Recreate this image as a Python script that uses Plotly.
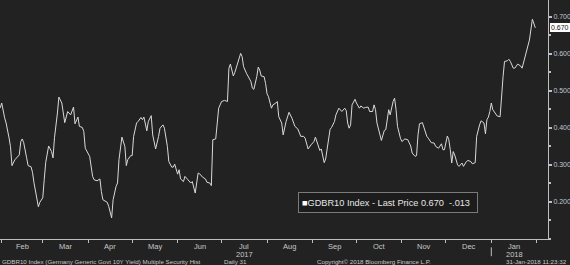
import pandas as pd
import plotly.graph_objects as go

dates = [
"2017-01-31","2017-02-01","2017-02-03","2017-02-04","2017-02-06","2017-02-07","2017-02-08","2017-02-10","2017-02-13","2017-02-14",
"2017-02-15","2017-02-16","2017-02-18","2017-02-19","2017-02-21","2017-02-22","2017-02-23","2017-02-25","2017-02-26","2017-02-27",
"2017-03-01","2017-03-02","2017-03-03","2017-03-05","2017-03-07","2017-03-08","2017-03-09","2017-03-11","2017-03-12","2017-03-14",
"2017-03-15","2017-03-16","2017-03-18","2017-03-20","2017-03-22","2017-03-23","2017-03-25","2017-03-26","2017-03-28","2017-03-29",
"2017-03-30","2017-04-01","2017-04-02","2017-04-04","2017-04-05","2017-04-07","2017-04-09","2017-04-10","2017-04-11","2017-04-14",
"2017-04-15","2017-04-17","2017-04-18","2017-04-20","2017-04-21","2017-04-22","2017-04-24","2017-04-26","2017-04-27","2017-04-28",
"2017-04-30","2017-05-01","2017-05-02","2017-05-04","2017-05-05","2017-05-07","2017-05-08","2017-05-09","2017-05-11","2017-05-12",
"2017-05-14","2017-05-15","2017-05-17","2017-05-19","2017-05-20","2017-05-22","2017-05-23","2017-05-25","2017-05-26","2017-05-28",
"2017-05-29","2017-05-30","2017-06-01","2017-06-02","2017-06-03","2017-06-05","2017-06-06","2017-06-08","2017-06-10","2017-06-11",
"2017-06-13","2017-06-15","2017-06-16","2017-06-18","2017-06-20","2017-06-21","2017-06-23","2017-06-24","2017-06-25","2017-06-27",
"2017-06-28","2017-06-29","2017-07-01","2017-07-03","2017-07-05","2017-07-06","2017-07-07","2017-07-09","2017-07-10","2017-07-12",
"2017-07-14","2017-07-15","2017-07-16","2017-07-18","2017-07-21","2017-07-22","2017-07-23","2017-07-25","2017-07-26","2017-07-27",
"2017-07-28","2017-07-30","2017-07-31","2017-08-01","2017-08-02","2017-08-04","2017-08-05","2017-08-07","2017-08-08","2017-08-09",
"2017-08-11","2017-08-12","2017-08-14","2017-08-16","2017-08-18","2017-08-20","2017-08-22","2017-08-24","2017-08-26","2017-08-27",
"2017-08-29","2017-08-31","2017-09-02","2017-09-03","2017-09-05","2017-09-06","2017-09-07","2017-09-09","2017-09-10","2017-09-11",
"2017-09-13","2017-09-14","2017-09-16","2017-09-17","2017-09-19","2017-09-21","2017-09-23","2017-09-24","2017-09-25","2017-09-26",
"2017-09-27","2017-09-28","2017-09-30","2017-10-01","2017-10-03","2017-10-04","2017-10-06","2017-10-07","2017-10-09","2017-10-10",
"2017-10-12","2017-10-13","2017-10-14","2017-10-15","2017-10-17","2017-10-18","2017-10-20","2017-10-21","2017-10-23","2017-10-24",
"2017-10-26","2017-10-27","2017-10-28","2017-10-29","2017-10-31","2017-11-01","2017-11-03","2017-11-05","2017-11-07","2017-11-08",
"2017-11-10","2017-11-11","2017-11-12","2017-11-13","2017-11-15","2017-11-16","2017-11-18","2017-11-19","2017-11-21","2017-11-23",
"2017-11-24","2017-11-26","2017-11-28","2017-11-29","2017-11-30","2017-12-02","2017-12-03","2017-12-04","2017-12-05","2017-12-06",
"2017-12-07","2017-12-09","2017-12-10","2017-12-12","2017-12-13","2017-12-15","2017-12-16","2017-12-18","2017-12-19","2017-12-21",
"2017-12-22","2017-12-24","2017-12-25","2017-12-27","2017-12-28","2017-12-29","2017-12-30","2017-12-31","2018-01-01","2018-01-02",
"2018-01-04","2018-01-05","2018-01-07","2018-01-08","2018-01-09","2018-01-10","2018-01-12","2018-01-13","2018-01-14","2018-01-16",
"2018-01-17","2018-01-19","2018-01-21","2018-01-22","2018-01-24","2018-01-26","2018-01-27","2018-01-29","2018-01-30","2018-01-31",
]

yields = [
0.454,0.467,0.427,0.413,0.373,0.349,0.298,0.314,0.327,0.363,
0.370,0.360,0.319,0.298,0.295,0.280,0.252,0.215,0.187,0.199,
0.211,0.260,0.306,0.351,0.336,0.319,0.373,0.440,0.483,0.467,
0.435,0.414,0.444,0.435,0.456,0.411,0.429,0.404,0.401,0.390,
0.345,0.332,0.323,0.269,0.260,0.257,0.262,0.228,0.206,0.199,
0.188,0.157,0.206,0.242,0.251,0.314,0.375,0.350,0.298,0.314,
0.325,0.325,0.377,0.413,0.417,0.428,0.422,0.429,0.392,0.417,
0.433,0.381,0.343,0.377,0.399,0.408,0.399,0.350,0.309,0.294,
0.294,0.302,0.275,0.287,0.262,0.255,0.269,0.260,0.251,0.255,
0.224,0.278,0.276,0.267,0.262,0.253,0.251,0.244,0.368,0.370,
0.413,0.453,0.471,0.474,0.471,0.561,0.572,0.540,0.549,0.574,
0.601,0.592,0.565,0.547,0.525,0.507,0.504,0.538,0.564,0.556,
0.540,0.538,0.520,0.492,0.484,0.453,0.462,0.467,0.471,0.430,
0.413,0.381,0.417,0.442,0.426,0.404,0.397,0.377,0.377,0.372,
0.343,0.354,0.363,0.375,0.350,0.339,0.343,0.306,0.316,0.345,
0.396,0.401,0.417,0.435,0.453,0.444,0.453,0.447,0.413,0.399,
0.408,0.462,0.477,0.467,0.453,0.459,0.453,0.455,0.456,0.444,
0.444,0.462,0.449,0.413,0.377,0.366,0.393,0.395,0.449,0.435,
0.471,0.480,0.449,0.404,0.372,0.363,0.370,0.368,0.351,0.332,
0.323,0.325,0.381,0.411,0.414,0.399,0.377,0.372,0.360,0.359,
0.350,0.345,0.357,0.341,0.341,0.378,0.368,0.341,0.305,0.336,
0.327,0.300,0.296,0.305,0.296,0.309,0.312,0.309,0.303,0.306,
0.377,0.408,0.419,0.413,0.384,0.422,0.429,0.444,0.467,0.449,
0.435,0.432,0.430,0.502,0.538,0.579,0.581,0.585,0.579,0.561,
0.561,0.572,0.567,0.561,0.592,0.619,0.637,0.693,0.683,0.670,
]

month_labels = ["Feb", "Mar", "Apr", "May", "Jun", "Jul", "Aug", "Sep", "Oct", "Nov", "Dec", "Jan"]
year_labels = {"Jul": "2017", "Jan": "2018"}
y_ticks = [0.2, 0.3, 0.4, 0.5, 0.6, 0.7]
last_price = yields[-1]
change = yields[-1] - yields[-2]

BG = "#222222"
AX = "#bfbfbf"
TXT = "#c8c8c8"
FONT = "Liberation Sans, Arial, sans-serif"

month_starts = pd.date_range("2017-02-01", "2018-02-01", freq="MS")
mids = [month_starts[i] + (month_starts[i + 1] - month_starts[i]) / 2 for i in range(len(month_labels))]

fig = go.Figure()
fig.add_trace(go.Scatter(x=pd.to_datetime(dates), y=yields, mode="lines",
                         line=dict(color="#d9d9d9", width=1), showlegend=False))

annotations = []
for lab, m in zip(month_labels, mids):
    annotations.append(dict(x=m, y=0, xref="x", yref="paper", text=lab, showarrow=False,
                            yanchor="middle", yshift=-7, font=dict(size=7.5, color=TXT, family=FONT)))
    if lab in year_labels:
        annotations.append(dict(x=m, y=0, xref="x", yref="paper", text=year_labels[lab], showarrow=False,
                                yanchor="middle", yshift=-15, font=dict(size=7.5, color=TXT, family=FONT)))

footer = [
    (0.0, "left", "GDBR10 Index (Germany Generic Govt 10Y Yield) Multiple Security Hist"),
    (0.405, "left", "Daily 31"),
    (0.575, "left", "Copyright\u00a9 2018 Bloomberg Finance L.P."),
    (1.038, "right", "31-Jan-2018 11:23:32"),
]
for fx, anc, t in footer:
    annotations.append(dict(x=fx, y=0, xref="paper", yref="paper", text=t, showarrow=False,
                            xanchor=anc, yanchor="middle", yshift=-22,
                            font=dict(size=6.2, color=TXT, family=FONT)))

chg_txt = ("-" if change < 0 else "+") + ("%.3f" % abs(change))[1:]
legend_text = ("<span style='color:#ffffff'>\u25A0</span>GDBR10 Index - Last Price "
               + "%.3f" % last_price + "\u00a0\u00a0" + chg_txt)
annotations.append(dict(x=0.543, y=0.153, xref="paper", yref="paper", text=legend_text,
                        showarrow=False, xanchor="left", yanchor="middle", align="left",
                        width=172, height=13, borderpad=3, bordercolor="#7a7a7a", borderwidth=1,
                        bgcolor="#1c1c1c", font=dict(size=9.2, color="#e6e6e6", family=FONT)))

annotations.append(dict(x=1.0, y=last_price, xref="paper", yref="y", text="%.3f" % last_price,
                        showarrow=False, xanchor="left", yanchor="middle", xshift=2,
                        bgcolor="#ffffff", bordercolor="#ffffff", borderpad=0,
                        font=dict(size=7, color="#111111", family=FONT)))

fig.add_shape(type="line", xref="x", yref="paper", x0="2018-01-01", x1="2018-01-01",
              y0=-0.035, y1=-0.072, line=dict(color=AX, width=1))

fig.update_layout(
    width=570, height=265,
    margin=dict(l=0, r=22, t=0, b=26, autoexpand=False),
    paper_bgcolor=BG, plot_bgcolor=BG,
    font=dict(family=FONT, color=TXT),
    annotations=annotations,
    xaxis=dict(range=["2017-01-30 20:00", "2018-02-08 16:00"], showgrid=False, zeroline=False,
               showline=True, linecolor=AX, linewidth=1, ticks="outside", ticklen=3,
               tickcolor=AX, tickvals=list(month_starts), showticklabels=False),
    yaxis=dict(range=[0.1, 0.745], side="right", showgrid=False, zeroline=False,
               showline=True, linecolor=AX, linewidth=1, ticks="outside", ticklen=3, tickwidth=2,
               tickcolor=AX, tickvals=y_ticks, tickformat=".3f", automargin=False,
               tickfont=dict(size=7, color="#c0c6d0", family=FONT),
               minor=dict(dtick=0.05, tick0=0.1, ticks="outside", ticklen=2, tickcolor=AX)),
)

fig.write_html("out.html")
